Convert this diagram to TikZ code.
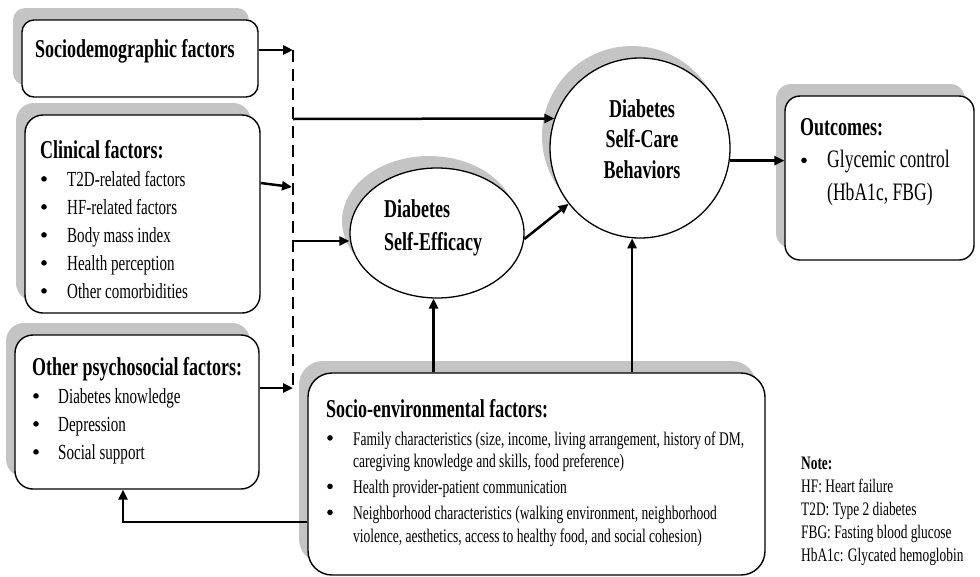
\documentclass[tikz,border=0pt]{standalone}
\usepackage{fontspec}
\setmainfont{Liberation Serif}[FakeStretch=0.70]
\usetikzlibrary{shadows,arrows.meta,shapes.geometric}

\definecolor{shgray}{RGB}{196,196,196}

% font shortcuts
\newcommand\dgTitle{\fontsize{25.7}{28}\bfseries\selectfont}
\newcommand\dgDot{\raisebox{4.3pt}{\tikz\fill (0,0) circle (2.8pt);}}
\newcommand\dgBullet[1]{\makebox[#1][l]{\hspace{1pt}\dgDot}}

\tikzset{
  shadowbox/.style={draw=black, line width=1.4pt, fill=white, inner sep=0pt,
    rounded corners=#1,
    drop shadow={shadow xshift=-9pt, shadow yshift=12pt, fill=shgray, opacity=1}},
  shadowround/.style={draw=black, line width=1.3pt, fill=white, inner sep=0pt,
    drop shadow={shadow xshift=-8pt, shadow yshift=12pt, fill=shgray, opacity=1}},
  txt/.style={inner sep=0pt, anchor=base west},
  arr/.style={line width=2.5pt, -{Triangle[length=10pt,width=9pt]}},
  dashline/.style={line width=2pt, dash pattern=on 12pt off 7pt},
}

\begin{document}
\begin{tikzpicture}[x=1pt, y=-1pt]
\useasboundingbox (0,0) rectangle (980,576);

% ---------- boxes ----------
\node[shadowbox=12pt, minimum width=236pt, minimum height=77pt] (socdem) at (140,58.5) {};
\node[shadowbox=18pt, minimum width=235pt, minimum height=198pt] (clin) at (142.5,214) {};
\node[shadowbox=18pt, minimum width=244pt, minimum height=154pt] (psy) at (137,412) {};
\node[shadowbox=15pt, minimum width=189pt, minimum height=164pt] (outc) at (879.5,178) {};
\node[shadowbox=24pt, minimum width=457pt, minimum height=202pt] (socio) at (536.5,474) {};

% ---------- mediators ----------
\node[shadowround, ellipse, minimum width=174pt, minimum height=130pt] (selfeff) at (437,233) {};
\node[shadowround, circle, minimum size=180pt] (selfcare) at (640,148) {};

% ---------- texts ----------
\node[txt] (socdemT) at (35,57) {\dgTitle Sociodemographic factors};

\node[txt] (clinT) at (40,158) {\fontsize{21.5}{28}\selectfont
  \begin{tabular}[t]{@{}l@{}}
  {\dgTitle Clinical factors:}\\
  \dgBullet{27pt}T2D-related factors\\
  \dgBullet{27pt}HF-related factors\\
  \dgBullet{27pt}Body mass index\\
  \dgBullet{27pt}Health perception\\
  \dgBullet{27pt}Other comorbidities
  \end{tabular}};

\node[txt] (psyT) at (32,375) {\fontsize{21.5}{28}\selectfont
  \begin{tabular}[t]{@{}l@{}}
  {\dgTitle Other psychosocial factors:}\\
  \dgBullet{26pt}Diabetes knowledge\\
  \dgBullet{26pt}Depression\\
  \dgBullet{26pt}Social support
  \end{tabular}};

\node[txt] (socioT) at (326,417) {\fontsize{19.3}{22.5}\selectfont
  \begin{tabular}[t]{@{}l@{}}
  {\dgTitle Socio-environmental factors:}\\[5.5pt]
  \dgBullet{27pt}Family characteristics (size, income, living arrangement, history of DM,\\
  \hspace*{27pt}caregiving knowledge and skills, food preference)\\[3.5pt]
  \dgBullet{27pt}Health provider-patient communication\\[3.5pt]
  \dgBullet{27pt}Neighborhood characteristics (walking environment, neighborhood\\
  \hspace*{27pt}violence, aesthetics, access to healthy food, and social cohesion)
  \end{tabular}};

\node[txt] (outcT) at (800,135) {\fontsize{25.1}{32.5}\selectfont
  \begin{tabular}[t]{@{}l@{}}
  {\dgTitle Outcomes:}\\
  \dgBullet{27pt}Glycemic control\\
  \hspace*{27pt}(HbA1c, FBG)
  \end{tabular}};

\node[txt] (noteT) at (801,469) {\fontsize{19.1}{23}\selectfont
  \begin{tabular}[t]{@{}l@{}}
  {\bfseries Note:}\\
  HF: Heart failure\\
  T2D: Type 2 diabetes\\
  FBG: Fasting blood glucose\\
  HbA1c: Glycated hemoglobin
  \end{tabular}};

\node[txt] (selfeffT) at (384,217) {\fontsize{25.7}{33}\bfseries\selectfont
  \begin{tabular}[t]{@{}l@{}}
  Diabetes\\
  Self-Efficacy
  \end{tabular}};

\node[inner sep=0pt, anchor=base] (selfcareT) at (642,117) {\fontsize{25.7}{30.5}\bfseries\selectfont
  \begin{tabular}[t]{@{}c@{}}
  Diabetes\\
  Self-Care\\
  Behaviors
  \end{tabular}};

% ---------- junction points on the dashed bar ----------
\coordinate (jtop) at (293,50);
\coordinate (jcare) at (293,119);
\coordinate (jclin) at (292,187);
\coordinate (jeff) at (293,241);
\coordinate (jbot) at (293,388);

\draw[dashline] (jtop) -- (jbot);

% ---------- connectors ----------
\draw[arr] (socdem.east |- jtop) -- (jtop);
\draw[arr] ([yshift=31pt]clin.east) -- (jclin);
\draw[arr] (psy.east |- jbot) -- (jbot);
\draw[arr] (jcare) -- (selfcare.161);
\draw[arr] (jeff) -- (jeff -| selfeff.west);
\draw[arr] (selfeff.356) -- (selfcare.218);
\draw[arr] (selfcare.352) -- (selfcare.352 -| outc.west);
\draw[arr] (socio.north -| selfeff.267) -- (selfeff.267);
\draw[arr] (socio.north -| selfcare.265) -- (selfcare.265);
\draw[arr] ([yshift=-48pt]socio.west) -| ([xshift=-14pt]psy.south);

\end{tikzpicture}
\end{document}
